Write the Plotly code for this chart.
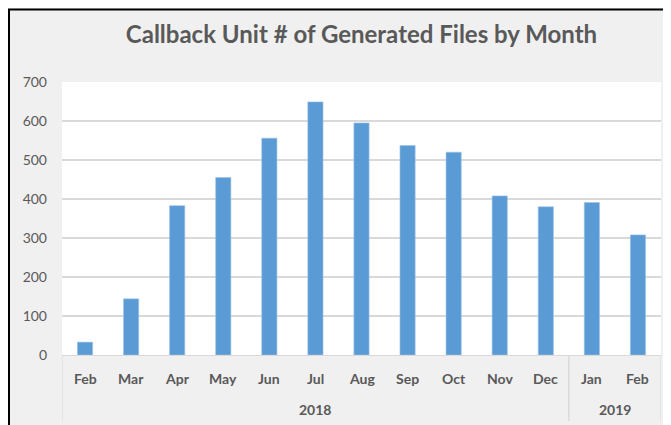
import plotly.graph_objects as go

years = ["2018"] * 11 + ["2019"] * 2
months = ["Feb", "Mar", "Apr", "May", "Jun", "Jul", "Aug", "Sep", "Oct", "Nov", "Dec", "Jan", "Feb"]
files = [33, 144, 383, 455, 556, 649, 595, 537, 520, 408, 380, 391, 308]
y_ticks = [0, 100, 200, 300, 400, 500, 600, 700]
title_text = "Callback Unit # of Generated Files by Month"

# page has an 8px body margin; figure is sized so the page is 671x425
OFF = 8
W, H = 671 - OFF, 425 - OFF
L, R, T, B = 62, 661, 82, 355          # plot area in page pixels
pw, ph = R - L, B - T

def px(x):
    return (x - L) / pw

def py(y):
    return (B - y) / ph

cat_ids = [f"{y}-{m}" for y, m in zip(years, months)]

fig = go.Figure(go.Bar(
    x=cat_ids, y=files,
    marker=dict(color="#5b9bd5", line=dict(color="#9dc3e6", width=0.6)),
))

font_family = "Lato, 'Open Sans', sans-serif"
grey_txt = "#595959"

# year groups
groups = []
for i, yv in enumerate(years):
    if not groups or groups[-1][0] != yv:
        groups.append([yv, i, i])
    else:
        groups[-1][2] = i

annotations = []
shapes = []
for yv, i0, i1 in groups:
    annotations.append(dict(text="<b>" + yv + "</b>", x=(i0 + i1) / 2, xref="x",
                            y=py(409), yref="paper", yanchor="middle", showarrow=False,
                            font=dict(size=14, color=grey_txt, family=font_family)))
    for xb in (i0 - 0.5, i1 + 0.5):
        shapes.append(dict(type="line", xref="x", yref="paper", x0=xb, x1=xb,
                           y0=py(355), y1=py(421), line=dict(color="#d9d9d9", width=1)))

for i, m in enumerate(months):
    annotations.append(dict(text="<b>" + m + "</b>", x=i, xref="x",
                            y=py(378), yref="paper", yanchor="middle", showarrow=False,
                            font=dict(size=14, color=grey_txt, family=font_family)))

shapes += [
    dict(type="line", xref="paper", yref="paper", x0=px(9), x1=px(9), y0=py(440), y1=py(9),
         line=dict(color="black", width=2)),
    dict(type="line", xref="paper", yref="paper", x0=px(8), x1=px(700), y0=py(9.5), y1=py(9.5),
         line=dict(color="black", width=2)),
]

fig.update_layout(
    width=W, height=H,
    margin=dict(l=L - OFF, r=(W + OFF) - R, t=T - OFF, b=(H + OFF) - B),
    paper_bgcolor="#f0f0f0",
    plot_bgcolor="white",
    bargap=0.67,
    showlegend=False,
    title=dict(text="<b>" + title_text + "</b>", x=0.5, xref="paper",
               y=1 - (35 - OFF) / H, yref="container", yanchor="middle", xanchor="center",
               font=dict(family=font_family, size=24, color=grey_txt)),
    font=dict(family=font_family, color=grey_txt),
    xaxis=dict(type="category", showline=True, linecolor="#d9d9d9", linewidth=1,
               showticklabels=False, ticks="", showgrid=False, range=[-0.5, len(months) - 0.5]),
    yaxis=dict(range=[0, 700], tickvals=y_ticks, showgrid=True, gridcolor="#d9d9d9",
               gridwidth=1.5, zeroline=False, ticks="", ticklabelstandoff=14,
               tickfont=dict(size=14, color=grey_txt)),
    shapes=shapes,
    annotations=annotations,
)

fig.write_html("out.html")
